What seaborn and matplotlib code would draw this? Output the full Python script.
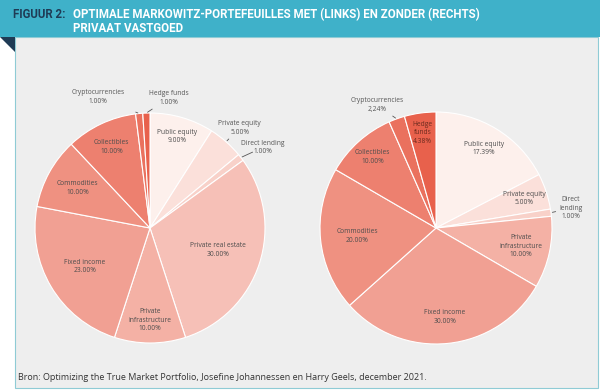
import numpy as np
import matplotlib.pyplot as plt
import seaborn as sns
from matplotlib.patches import Rectangle, Polygon

# -----------------------------
# Data
# -----------------------------
categories = ["Public equity", "Private equity", "Direct lending", "Private real estate",
              "Private infrastructure", "Fixed income", "Commodities", "Collectibles",
              "Cryptocurrencies", "Hedge funds"]

left_names = categories
left_values = [9.00, 5.00, 1.00, 30.00, 10.00, 23.00, 10.00, 10.00, 1.00, 1.00]
left_labels = ["Public equity\n9.00%", "Private equity\n5.00%", "Direct lending\n1.00%",
               "Private real estate\n30.00%", "Private\ninfrastructure\n10.00%",
               "Fixed income\n23.00%", "Commodities\n10.00%", "Collectibles\n10.00%",
               "Cryptocurrencies\n1.00%", "Hedge funds\n1.00%"]

right_names = ["Public equity", "Private equity", "Direct lending", "Private infrastructure",
               "Fixed income", "Commodities", "Collectibles", "Cryptocurrencies", "Hedge funds"]
right_values = [17.39, 5.00, 1.00, 10.00, 30.00, 20.00, 10.00, 2.24, 4.38]
right_labels = ["Public equity\n17.39%", "Private equity\n5.00%", "Direct\nlending\n1.00%",
                "Private\ninfrastructure\n10.00%", "Fixed income\n30.00%", "Commodities\n20.00%",
                "Collectibles\n10.00%", "Cryptocurrencies\n2,24%", "Hedge\nfunds\n4.38%"]

title_prefix = "FIGUUR 2:"
title_text = "OPTIMALE MARKOWITZ-PORTEFEUILLES MET (LINKS) EN ZONDER (RECHTS)\nPRIVAAT VASTGOED"
source_text = "Bron: Optimizing the True Market Portfolio, Josefine Johannessen en Harry Geels, december 2021."

# -----------------------------
# Layout (label placement: radius for inside labels, xy for outside ones)
# -----------------------------
left_layout = {
    "Public equity": 0.83, "Private real estate": 0.62, "Private infrastructure": 0.80,
    "Fixed income": 0.66, "Commodities": 0.72, "Collectibles": 0.78,
    "Private equity": (0.78, 0.87), "Direct lending": (0.98, 0.70),
    "Cryptocurrencies": (-0.45, 1.14), "Hedge funds": (0.16, 1.13),
}
right_layout = {
    "Public equity": 0.80, "Private equity": 0.80, "Private infrastructure": 0.75,
    "Fixed income": 0.77, "Commodities": 0.68, "Collectibles": 0.82, "Hedge funds": 0.83,
    "Direct lending": (1.16, 0.17), "Cryptocurrencies": (-0.51, 1.06),
}

sns.set_theme(style="white")
plt.rcParams["font.family"] = ["Open Sans", "DejaVu Sans"]

palette = sns.blend_palette(["#fdf0ec", "#e8614c"], n_colors=len(categories))
color_map = dict(zip(categories, palette))

W, H = 600, 391
fig = plt.figure(figsize=(W / 100, H / 100), dpi=100)
fig.patch.set_facecolor("white")


def fx(px):
    return px / W


def fy(py):
    return 1 - py / H


# header, panel, corner
fig.patches.append(Rectangle((fx(15), fy(388)), fx(583), 351 / H, transform=fig.transFigure,
                             facecolor="#eeeeee", edgecolor="#8fcbd5", lw=0.8, zorder=-3))
fig.patches.append(Rectangle((0, fy(37)), 1, 37 / H, transform=fig.transFigure,
                             facecolor="#3fb1c9", edgecolor="none", zorder=-2))
fig.patches.append(Polygon([(0, fy(37)), (fx(15), fy(37)), (fx(15), fy(52))],
                           transform=fig.transFigure, facecolor="#1f3b55", edgecolor="none", zorder=-2))

fig.text(fx(13), fy(7.5), title_prefix, color="#1f3b55", fontsize=8.3, fontweight="bold",
         va="top", ha="left", family=["Roboto", "DejaVu Sans"])
fig.text(fx(73), fy(7.5), title_text, color="white", fontsize=8.3, fontweight="bold",
         va="top", ha="left", linespacing=1.1, family=["Roboto", "DejaVu Sans"])
fig.text(fx(18), fy(378), source_text, color="#333333", fontsize=6.5, va="center", ha="left")


def draw_pie(cx, cy, r, names, values, labels, layout):
    ax = fig.add_axes([fx(cx - r), fy(cy + r), 2 * r / W, 2 * r / H])
    ax.set_axis_off()
    wedges, _ = ax.pie(values, colors=[color_map[n] for n in names], startangle=90,
                       counterclock=False, radius=1,
                       wedgeprops=dict(edgecolor="white", linewidth=0.8))
    ax.set_xlim(-1, 1)
    ax.set_ylim(-1, 1)
    for w, name, lab in zip(wedges, names, labels):
        mid = np.deg2rad((w.theta1 + w.theta2) / 2)
        pos = layout[name]
        if isinstance(pos, tuple):
            ax.annotate(lab, xy=(np.cos(mid) * 1.0, np.sin(mid) * 1.0), xytext=pos,
                        ha="center", va="center", fontsize=4.8, color="#555555",
                        linespacing=1.3, annotation_clip=False,
                        arrowprops=dict(arrowstyle="-", color="#555555", lw=0.6,
                                        shrinkA=8, shrinkB=1))
        else:
            tc = "#6a2a1e" if name == "Hedge funds" else "#4d4d4d"
            ax.text(np.cos(mid) * pos, np.sin(mid) * pos, lab, ha="center", va="center",
                    fontsize=4.8, color=tc, linespacing=1.3)
    return ax


draw_pie(150, 228, 115, left_names, left_values, left_labels, left_layout)
draw_pie(436, 228, 116, right_names, right_values, right_labels, right_layout)

fig.savefig("out.png", dpi=100)
